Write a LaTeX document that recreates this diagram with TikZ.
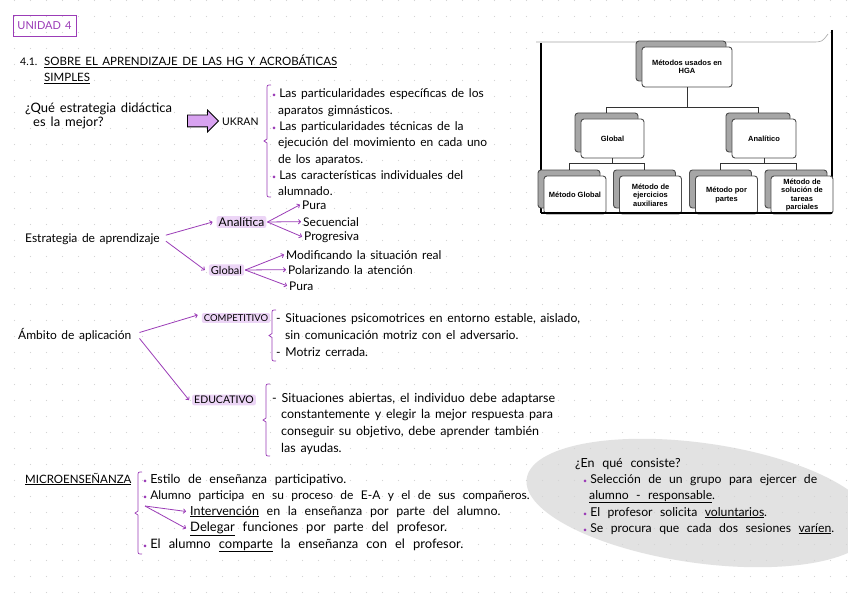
\documentclass[tikz,border=0pt]{standalone}
\usepackage{fontspec}
\setmainfont{Lato}[WordSpace=1.5]
\newfontfamily\widefont{Lato}[WordSpace=2.4]
\newfontfamily\boxfont{Liberation Sans}
\usetikzlibrary{arrows.meta}
\usetikzlibrary{shapes.arrows}
\usetikzlibrary{shadows}
\usetikzlibrary{calc}

\definecolor{ink}{HTML}{9B3CB7}
\definecolor{hlpurple}{HTML}{ECD5F6}
\definecolor{arrowfill}{HTML}{D8A2F0}
\definecolor{blobgray}{HTML}{E2E2E2}
\definecolor{dotgray}{HTML}{D4D4D4}

\newcommand{\bul}{{\fontsize{7}{7}\selectfont\textcolor{ink}{\textbullet}}\hspace{3pt}}
\newcommand{\lns}[1]{\begin{tabular}[t]{@{}l@{}}#1\end{tabular}}
% left brace: x, top, bottom
\newcommand{\sidebrace}[3]{%
  \pgfmathsetmacro{\bmid}{(#2+#3)/2}
  \draw[ink, line width=0.7pt] ({#1+4},#2) .. controls (#1,#2) .. (#1,{#2+4})
    -- (#1,{\bmid-2}) -- ({#1-3},\bmid) -- (#1,{\bmid+2})
    -- (#1,{#3-4}) .. controls (#1,#3) .. ({#1+4},#3);}

\begin{document}
\begin{tikzpicture}[x=1pt,y=-1pt,
  txt/.style={anchor=base west, inner sep=0pt, font=\fontsize{12}{16}\selectfont},
  wide/.style={font=\widefont\fontsize{12.5}{16}\selectfont},
  caps/.style={anchor=base west, inner sep=0pt, font=\fontsize{10}{12}\selectfont},
  hl/.style={fill=hlpurple, rounded corners=2pt, inner xsep=2pt, inner ysep=1.5pt, font=\fontsize{11}{13}\selectfont},
  arr/.style={ink, line width=0.8pt, -{To[length=3pt,width=5pt]}},
  tbox/.style={draw=black!70, fill=white, rounded corners=3pt, line width=0.9pt,
    minimum width=62pt, minimum height=38pt, inner sep=1pt, align=center,
    font=\boxfont\bfseries\fontsize{7.5}{8.5}\selectfont,
    copy shadow={shadow xshift=-6pt, shadow yshift=6pt, fill=black!35, draw=black!70, line width=0.9pt}},
  tline/.style={black!80, line width=0.8pt}]

\useasboundingbox (0,0) rectangle (848,599);
\fill[white] (0,0) rectangle (848,599);

% grey blob
\fill[blobgray, rotate around={-8:(700,503)}] (700,503) ellipse [x radius=175, y radius=60];

% dot grid
\foreach \gx in {14.5,30.5,...,846.5}
  \foreach \gy in {0.5,16.5,...,598.5}
    \fill[dotgray] (\gx,\gy) circle[radius=0.7];

% heading
\node[draw=ink, line width=0.9pt, text=ink, minimum width=63pt, minimum height=21pt,
  font=\fontsize{11}{13}\selectfont] (unidad) at (44.5,25.5) {UNIDAD 4};
\node[caps, font=\fontsize{10.5}{12}\selectfont] (num) at (20,66) {4.1.};
\node[caps, font=\fontsize{11.5}{16}\selectfont] (titulo) at (44,66)
  {\lns{\underline{SOBRE EL APRENDIZAJE DE LAS HG Y ACROBÁTICAS}\\\underline{SIMPLES}}};

% UKRAN
\node[txt, font=\fontsize{13}{14}\selectfont] (pregunta) at (25,113)
  {\lns{¿Qué estrategia didáctica\\\hspace*{8pt}es la mejor?}};
\node[single arrow, draw=black, fill=arrowfill, line width=0.8pt, minimum height=31pt,
  single arrow head extend=5pt, inner sep=0pt] (bigarrow) at (200,121) {\rule{0pt}{11pt}};
\node[caps, font=\fontsize{10.5}{12}\selectfont] (ukran) at (222,125) {UKRAN};
\sidebrace{267}{85}{197}
\node[txt, font=\fontsize{12}{16.3}\selectfont] (ukranlist) at (272,98)
  {\lns{\bul Las particularidades específicas de los\\
   \hspace*{6pt}aparatos gimnásticos.\\
   \bul Las particularidades técnicas de la\\
   \hspace*{6pt}ejecución del movimiento en cada uno\\
   \hspace*{6pt}de los aparatos.\\
   \bul Las características individuales del\\
   \hspace*{6pt}alumnado.}};

% estrategia
\node[txt] (estr) at (25,242) {Estrategia de aprendizaje};
\node[hl, font=\fontsize{12}{14}\selectfont] (anal) at (241.5,222) {Analítica};
\node[hl] (glob) at (226.5,270) {Global};
\draw[arr] ([xshift=6pt,yshift=3.5pt]estr.east) -- ([xshift=-4pt]anal.west);
\draw[arr] ([xshift=6pt,yshift=-2.5pt]estr.east) -- ([xshift=-4pt]glob.west);

\node[txt] (apura) at (302,209) {Pura};
\node[txt] (asec) at (303,226) {Secuencial};
\node[txt] (aprog) at (304,240) {Progresiva};
\foreach \t in {apura,asec,aprog}
  \draw[arr] ([xshift=1pt]anal.east) -- ([xshift=-2pt]\t.west);

\node[txt] (gmod) at (286,259) {Modificando la situación real};
\node[txt] (gpol) at (288,274) {Polarizando la atención};
\node[txt] (gpura) at (289,290) {Pura};
\foreach \t in {gmod,gpol,gpura}
  \draw[arr] ([xshift=1pt]glob.east) -- ([xshift=-2pt]\t.west);

% ambito
\node[txt] (ambito) at (18,339) {Ámbito de aplicación};
\node[hl, font=\fontsize{9.5}{11}\selectfont] (comp) at (236,318) {COMPETITIVO};
\node[hl, font=\fontsize{10.5}{12}\selectfont] (educ) at (224,400) {EDUCATIVO};
\draw[arr] ([xshift=8pt,yshift=2pt]ambito.east) -- ([xshift=-4pt,yshift=3pt]comp.west);
\draw[arr] ([xshift=8pt,yshift=-4pt]ambito.east) -- ([xshift=-3pt]educ.west);

\sidebrace{272}{310}{361}
\node[txt, font=\fontsize{12.2}{17}\selectfont] (complist) at (276,322)
  {\lns{- Situaciones psicomotrices en entorno estable, aislado,\\
   \hspace*{9pt}sin comunicación motriz con el adversario.\\
   - Motriz cerrada.}};
\sidebrace{266}{384}{456}
\node[txt, font=\fontsize{12.5}{16.7}\selectfont] (educlist) at (272,402)
  {\lns{- Situaciones abiertas, el individuo debe adaptarse\\
   \hspace*{9pt}constantemente y elegir la mejor respuesta para\\
   \hspace*{9pt}conseguir su objetivo, debe aprender también\\
   \hspace*{9pt}las ayudas.}};

% microensenanza
\node[caps, font=\fontsize{11.5}{13}\selectfont] (micro) at (25,483) {\underline{MICROENSEÑANZA}};
\sidebrace{138}{472}{554}
\node[txt, wide] (m1) at (143,483) {\bul Estilo de enseñanza participativo.};
\node[txt, wide, font=\widefont\fontsize{12}{16}\selectfont] (m2) at (143,499) {\bul Alumno participa en su proceso de E-A y el de sus compañeros.};
\node[txt, wide] (interv) at (190,515) {\underline{Intervención} en la enseñanza por parte del alumno.};
\node[txt, wide, font=\widefont\fontsize{13}{16}\selectfont] (deleg) at (190,531) {\underline{Delegar} funciones por parte del profesor.};
\node[txt, wide, font=\widefont\fontsize{13}{16}\selectfont] (m5) at (143,548) {\bul El alumno \underline{comparte} la enseñanza con el profesor.};
\coordinate (mfork) at (145,506);
\draw[arr] (mfork) -- ([xshift=-4pt]interv.west);
\draw[arr] (mfork) -- ([xshift=-4pt]deleg.west);

% en que consiste
\node[txt, wide] (consiste) at (575,467) {¿En qué consiste?};
\node[txt, wide, font=\widefont\fontsize{12.2}{16}\selectfont] (c1) at (583,483) {\lns{\bul Selección de un grupo para ejercer de\\
  \hspace*{6pt}\underline{alumno - responsable}.}};
\node[txt, wide, font=\widefont\fontsize{12.2}{16}\selectfont] (c2) at (583,516) {\bul El profesor solicita \underline{voluntarios}.};
\node[txt, wide, font=\widefont\fontsize{12.2}{16}\selectfont] (c3) at (583,532) {\bul Se procura que cada dos sesiones \underline{varíen}.};

% metodos (pasted figure)
\fill[white] (541,43) rectangle (832,213);
\draw[black!35, line width=0.6pt] (536,42) -- (812,42) .. controls (822,42) .. (828,34);
\draw[black, line width=1.2pt] (541,43) -- (541,213);
\draw[black, line width=1.2pt] (832,30) -- (832,213);

\node[tbox, minimum width=90pt, minimum height=40pt] (metodos) at (687,67) {Métodos usados en\\HGA};
\node[tbox, minimum width=63pt, minimum height=39pt] (tglobal) at (612.5,138.5) {Global};
\node[tbox, minimum width=64pt, minimum height=39pt] (tanal) at (764,138.5) {Analítico};
\node[tbox] (mglobal) at (575,195) {Método Global};
\node[tbox] (mejer) at (650.5,195) {Método de\\ejercicios\\auxiliares};
\node[tbox] (mpartes) at (726.5,195) {Método por\\partes};
\node[tbox] (msol) at (802,195) {Método de\\solución de\\tareas\\parciales};

\draw[tline] (metodos.south) -- ++(0,20) coordinate (j0);
\draw[tline] ($(tglobal.north)+(-6,-6)$) |- (j0) -| ($(tanal.north)+(-6,-6)$);
\draw[tline] (tglobal.south) -- ++(0,5) coordinate (j1);
\draw[tline] ($(mglobal.north)+(-6,-6)$) |- (j1) -| ($(mejer.north)+(-6,-6)$);
\draw[tline] (tanal.south) -- ++(0,5) coordinate (j2);
\draw[tline] ($(mpartes.north)+(-6,-6)$) |- (j2) -| ($(msol.north)+(-6,-6)$);

\draw[black, line width=1.2pt] (541,213) -- (832,213);
\end{tikzpicture}
\end{document}
